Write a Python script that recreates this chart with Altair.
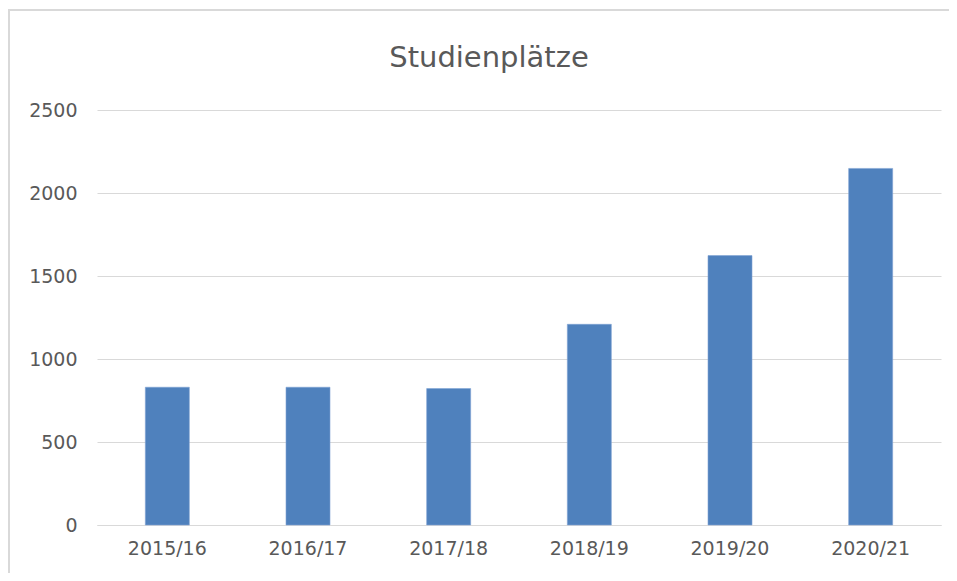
import altair as alt
import pandas as pd

title_text = "Studienplätze"
years = ["2015/16", "2016/17", "2017/18", "2018/19", "2019/20", "2020/21"]
places = [830, 830, 822, 1209, 1623, 2148]

df = pd.DataFrame({"Jahr": years, "Studienplätze": places})
tdf = pd.DataFrame({"t": [title_text]})

FONT = "DejaVu Sans"
TXT = "#595959"
FRAME = "#D9D9D9"

bars = alt.Chart(df).mark_bar(size=44, color="#4F81BD", stroke="#7FA3D3", strokeWidth=0.6).encode(
    x=alt.X("Jahr:N", sort=years, title=None,
            scale=alt.Scale(paddingInner=0, paddingOuter=0),
            axis=alt.Axis(labelAngle=0, ticks=False, domainColor="#D9D9D9", domainWidth=1,
                          labelFont=FONT, labelFontSize=19, labelColor=TXT, labelPadding=14,
                          grid=False)),
    y=alt.Y("Studienplätze:Q", title=None,
            scale=alt.Scale(domain=[0, 2500]),
            axis=alt.Axis(values=[0, 500, 1000, 1500, 2000, 2500], format="d", ticks=False, domain=False,
                          gridColor="#D9D9D9", gridWidth=1,
                          labelFont=FONT, labelFontSize=19, labelColor=TXT, labelPadding=20)),
)

# chart title
title = alt.Chart(tdf).mark_text(font=FONT, fontSize=29, color=TXT, align="center",
                                 baseline="alphabetic", clip=False).encode(
    text="t:N", x=alt.value(392), y=alt.value(-43)
)

# chart-area frame (top and left edge of the chart box)
frame_top = alt.Chart(tdf).mark_rule(color=FRAME, strokeWidth=2, clip=False).encode(
    x=alt.value(-88), x2=alt.value(870), y=alt.value(-100)
)
frame_left = alt.Chart(tdf).mark_rule(color=FRAME, strokeWidth=2, clip=False).encode(
    x=alt.value(-88), y=alt.value(-101), y2=alt.value(480)
)

chart = alt.layer(bars, title, frame_top, frame_left).properties(
    width=844, height=415,
    autosize=alt.AutoSizeParams(type="none"),
    padding={"left": 89, "top": 102, "right": 8, "bottom": 48},
    background="white",
).configure_view(stroke=None, strokeWidth=0)

chart.save("out.html", embed_options={"renderer": "svg", "actions": False})
